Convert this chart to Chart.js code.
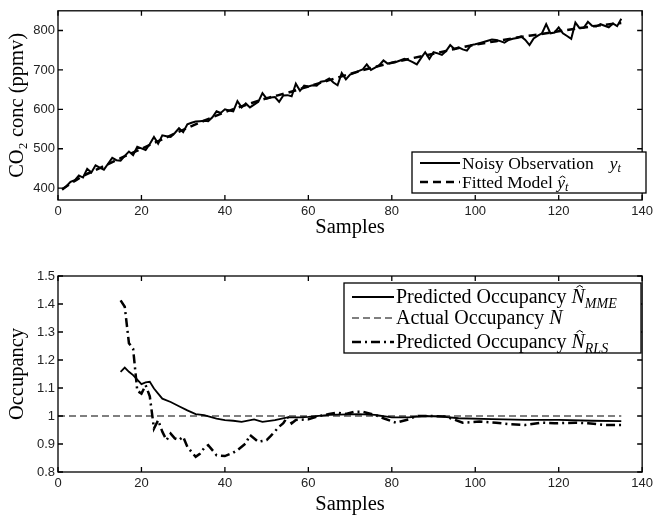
<!DOCTYPE html>
<html lang="en">
<head>
  <meta charset="UTF-8">
  <title>CO2 concentration and occupancy</title>
  <script src="https://cdn.jsdelivr.net/npm/chart.js"></script>
  <style>
    body { margin: 0; background: #fff; }
    .panel { position: absolute; left: 0; width: 657px; }
    #topPanel { top: 0; height: 240px; }
    #botPanel { top: 250px; height: 269px; }
  </style>
</head>
<body>
<div class="panel" id="topPanel"><canvas id="co2Chart"></canvas></div>
<div class="panel" id="botPanel"><canvas id="occChart"></canvas></div>

<script>
  // top panel: CO2 concentration per sample
  const samples = Array.from({ length: 135 }, (_, i) => i + 1);
  const noisyObs = [
    396, 405, 416, 420, 432, 427, 449, 440, 458, 452,
    447, 462, 477, 471, 470, 482, 493, 484, 505, 501,
    497, 512, 530, 513, 534, 532, 530, 540, 552, 542,
    562, 566, 569, 570, 571, 570, 580, 595, 591, 600,
    597, 595, 621, 605, 615, 605, 612, 619, 641, 627,
    630, 631, 619, 635, 636, 633, 665, 647, 660, 658,
    661, 660, 670, 672, 678, 668, 661, 692, 676, 688,
    692, 697, 701, 714, 700, 706, 712, 724, 716, 718,
    720, 724, 728, 725, 720, 714, 730, 745, 728, 745,
    742, 738, 748, 763, 753, 757, 752, 749, 763, 765,
    768, 771, 774, 777, 776, 773, 769, 776, 779, 781,
    785, 776, 763, 780, 787, 793, 816, 793, 795, 808,
    793, 786, 779, 820, 806, 807, 822, 812, 810, 816,
    812, 808, 818, 811, 830
  ];
  const fitSamples = [1, 5, 10, 15, 20, 25, 30, 35, 40, 45, 50, 55, 60, 65,
    70, 75, 80, 85, 90, 95, 100, 105, 110, 115, 120, 125, 130, 135];
  const fitValues = [397, 425, 451, 476, 500, 524, 548, 571, 593, 611, 628, 642, 658, 674,
    690, 705, 718, 730, 741, 753, 764, 773, 782, 790, 798, 806, 813, 819];

  // bottom panel: occupancy estimates
  const mmeSamples = [15, 16, 17, 18, 19, 20, 21, 22, 23, 24,
    25, 27, 29, 31, 33, 35, 38, 40, 42, 44,
    47, 49, 52, 55, 58, 60, 65, 72, 76, 80,
    84, 88, 92, 96, 104, 112, 120, 128, 135];
  const mmeValues = [1.158, 1.173, 1.158, 1.146, 1.13, 1.114, 1.12, 1.122, 1.098, 1.08,
    1.062, 1.05, 1.035, 1.02, 1.007, 1.003, 0.991, 0.985, 0.983, 0.979,
    0.988, 0.979, 0.985, 0.995, 0.995, 0.997, 1.004, 1.007, 1.004, 0.995,
    0.995, 1.0, 0.998, 0.992, 0.989, 0.986, 0.986, 0.983, 0.982];
  const actualSamples = [0, 135];
  const actualValues = [1, 1];
  const rlsSamples = [15, 16, 17, 18, 19, 20, 21, 22, 23, 24,
    25, 26, 27, 28, 29, 30, 31, 32, 33, 34,
    35, 36, 37, 38, 40, 42, 43, 45, 46, 48,
    50, 51, 53, 54, 55, 56, 57, 60, 62, 65,
    67, 69, 71, 73, 76, 78, 81, 84, 86, 89,
    93, 97, 101, 105, 108, 112, 116, 119, 124, 127,
    131, 135];
  const rlsValues = [1.413, 1.39, 1.26, 1.24, 1.09, 1.08, 1.11, 1.07, 0.955, 0.985,
    0.944, 0.914, 0.937, 0.92, 0.914, 0.926, 0.89, 0.872, 0.854, 0.865,
    0.885, 0.896, 0.878, 0.86, 0.857, 0.869, 0.878, 0.902, 0.932, 0.908,
    0.914, 0.929, 0.962, 0.974, 0.998, 0.974, 0.986, 0.988, 0.998, 1.007,
    1.012, 1.007, 1.015, 1.015, 1.004, 0.992, 0.976, 0.988, 1.0, 1.0,
    0.998, 0.976, 0.98, 0.976, 0.971, 0.968, 0.976, 0.974, 0.976, 0.974,
    0.968, 0.968];

  const pairs = (xs, ys) => xs.map((x, i) => ({ x: x, y: ys[i] }));

  const SERIF = '"Liberation Serif", "Times New Roman", serif';
  const SANS = '"Liberation Sans", Arial, sans-serif';

  // text with italic parts, subscripts and hats
  function drawRich(ctx, parts, x, y, size) {
    ctx.fillStyle = '#000';
    ctx.textBaseline = 'alphabetic';
    ctx.textAlign = 'left';
    const base = y + size * 0.32;
    parts.forEach(p => {
      const fs = p.sub ? size * 0.7 : size;
      ctx.font = (p.it ? 'italic ' : '') + fs + 'px ' + SERIF;
      x += p.gap || 0;
      const yb = p.sub ? base + size * 0.22 : base;
      ctx.fillText(p.t, x, yb);
      const w = ctx.measureText(p.t).width;
      if (p.hat) {
        const cx = x + w / 2 + fs * 0.08;
        const top = yb - (p.cap ? 0.9 : 0.66) * fs;
        const hw = fs * 0.16;
        ctx.beginPath();
        ctx.lineWidth = 1;
        ctx.strokeStyle = '#000';
        ctx.moveTo(cx - hw, top + fs * 0.1);
        ctx.lineTo(cx, top);
        ctx.lineTo(cx + hw, top + fs * 0.1);
        ctx.stroke();
      }
      x += w;
    });
  }

  // matlab style frame with inward ticks on all four sides
  const frameTicks = {
    id: 'frameTicks',
    afterDatasetsDraw(chart) {
      const { ctx, chartArea: a, scales: { x, y } } = chart;
      const len = 5;
      ctx.save();
      ctx.strokeStyle = '#000';
      ctx.lineWidth = 1.3;
      ctx.setLineDash([]);
      ctx.strokeRect(a.left, a.top, a.right - a.left, a.bottom - a.top);
      ctx.beginPath();
      x.ticks.forEach(t => {
        const px = x.getPixelForValue(t.value);
        ctx.moveTo(px, a.bottom); ctx.lineTo(px, a.bottom - len);
        ctx.moveTo(px, a.top); ctx.lineTo(px, a.top + len);
      });
      y.ticks.forEach(t => {
        const py = y.getPixelForValue(t.value);
        ctx.moveTo(a.left, py); ctx.lineTo(a.left + len, py);
        ctx.moveTo(a.right, py); ctx.lineTo(a.right - len, py);
      });
      ctx.stroke();
      ctx.restore();
    }
  };

  const boxLegend = {
    id: 'boxLegend',
    afterDraw(chart, args, opts) {
      const ctx = chart.ctx;
      const b = opts.box;
      ctx.save();
      ctx.fillStyle = '#fff';
      ctx.fillRect(b.x, b.y, b.w, b.h);
      ctx.strokeStyle = '#000';
      ctx.lineWidth = 1.3;
      ctx.strokeRect(b.x, b.y, b.w, b.h);
      opts.items.forEach((item, i) => {
        const ds = chart.data.datasets[item.dataset];
        const yy = opts.rows[i];
        ctx.strokeStyle = '#000';
        ctx.lineWidth = ds.borderWidth;
        ctx.setLineDash(ds.borderDash || []);
        ctx.beginPath();
        ctx.moveTo(opts.lineX[0], yy);
        ctx.lineTo(opts.lineX[1], yy);
        ctx.stroke();
        ctx.setLineDash([]);
        drawRich(ctx, item.parts, opts.textX, yy, opts.size);
      });
      ctx.restore();
    }
  };

  const tickFont = { family: SANS, size: 13 };
  const titleFont = { family: SERIF, size: 20.5 };

  function xScale(height) {
    return {
      type: 'linear', min: 0, max: 140,
      ticks: { stepSize: 20, padding: 4, color: '#222', font: tickFont, maxRotation: 0 },
      grid: { display: false, drawTicks: false },
      border: { display: false },
      title: { display: true, text: 'Samples', color: '#000', font: titleFont, padding: 0 },
      afterFit: s => { s.height = height; }
    };
  }

  new Chart(document.getElementById('co2Chart'), {
    type: 'line',
    data: {
      datasets: [
        { label: 'Noisy Observation', data: pairs(samples, noisyObs), borderColor: '#000',
          borderWidth: 2, pointRadius: 0, tension: 0 },
        { label: 'Fitted Model', data: pairs(fitSamples, fitValues), borderColor: '#000',
          borderWidth: 2.5, borderDash: [8, 5], pointRadius: 0, cubicInterpolationMode: 'monotone' }
      ]
    },
    options: {
      responsive: true, maintainAspectRatio: false, animation: false,
      layout: { padding: { top: 4, right: 10, bottom: 0, left: 0 } },
      plugins: {
        legend: { display: false },
        tooltip: { enabled: false },
        boxLegend: {
          box: { x: 412, y: 152, w: 234, h: 41 },
          rows: [163, 182], lineX: [420, 460], textX: 462, size: 17.5,
          items: [
            { dataset: 0, parts: [{ t: 'Noisy Observation' }, { t: 'y', it: true, gap: 16 }, { t: 't', it: true, sub: true }] },
            { dataset: 1, parts: [{ t: 'Fitted Model ' }, { t: 'y', it: true, hat: true }, { t: 't', it: true, sub: true }] }
          ]
        }
      },
      scales: {
        x: xScale(40),
        y: {
          min: 370, max: 850,
          ticks: { stepSize: 100, padding: 3, color: '#222', font: tickFont, includeBounds: false },
          grid: { display: false, drawTicks: false },
          border: { display: false },
          title: { display: true, text: 'CO\u2082 conc (ppmv)', color: '#000', font: titleFont, padding: { top: 5, bottom: 0 } },
          afterFit: s => { s.width = 58; }
        }
      }
    },
    plugins: [frameTicks, boxLegend]
  });

  new Chart(document.getElementById('occChart'), {
    type: 'line',
    data: {
      datasets: [
        { label: 'Predicted Occupancy MME', data: pairs(mmeSamples, mmeValues), borderColor: '#000',
          borderWidth: 1.8, pointRadius: 0, tension: 0 },
        { label: 'Actual Occupancy', data: pairs(actualSamples, actualValues), borderColor: '#000',
          borderWidth: 1.2, borderDash: [7, 4], pointRadius: 0 },
        { label: 'Predicted Occupancy RLS', data: pairs(rlsSamples, rlsValues), borderColor: '#000',
          borderWidth: 2.5, borderDash: [9, 4, 2, 4], pointRadius: 0, tension: 0 }
      ]
    },
    options: {
      responsive: true, maintainAspectRatio: false, animation: false,
      layout: { padding: { top: 26, right: 10, bottom: 2, left: 0 } },
      plugins: {
        legend: { display: false },
        tooltip: { enabled: false },
        boxLegend: {
          box: { x: 344, y: 33, w: 297, h: 70 },
          rows: [47, 68, 92], lineX: [352, 394], textX: 396, size: 20,
          items: [
            { dataset: 0, parts: [{ t: 'Predicted Occupancy ' }, { t: 'N', it: true, hat: true, cap: true }, { t: 'MME', it: true, sub: true }] },
            { dataset: 1, parts: [{ t: 'Actual Occupancy ' }, { t: 'N', it: true }] },
            { dataset: 2, parts: [{ t: 'Predicted Occupancy ' }, { t: 'N', it: true, hat: true, cap: true }, { t: 'RLS', it: true, sub: true }] }
          ]
        }
      },
      scales: {
        x: xScale(45),
        y: {
          min: 0.8, max: 1.5,
          ticks: { stepSize: 0.1, padding: 3, color: '#222', font: tickFont, includeBounds: false,
            callback: v => String(+v.toFixed(1)) },
          grid: { display: false, drawTicks: false },
          border: { display: false },
          title: { display: true, text: 'Occupancy', color: '#000', font: titleFont, padding: { top: 5, bottom: 0 } },
          afterFit: s => { s.width = 58; }
        }
      }
    },
    plugins: [frameTicks, boxLegend]
  });
</script>
</body>
</html>
